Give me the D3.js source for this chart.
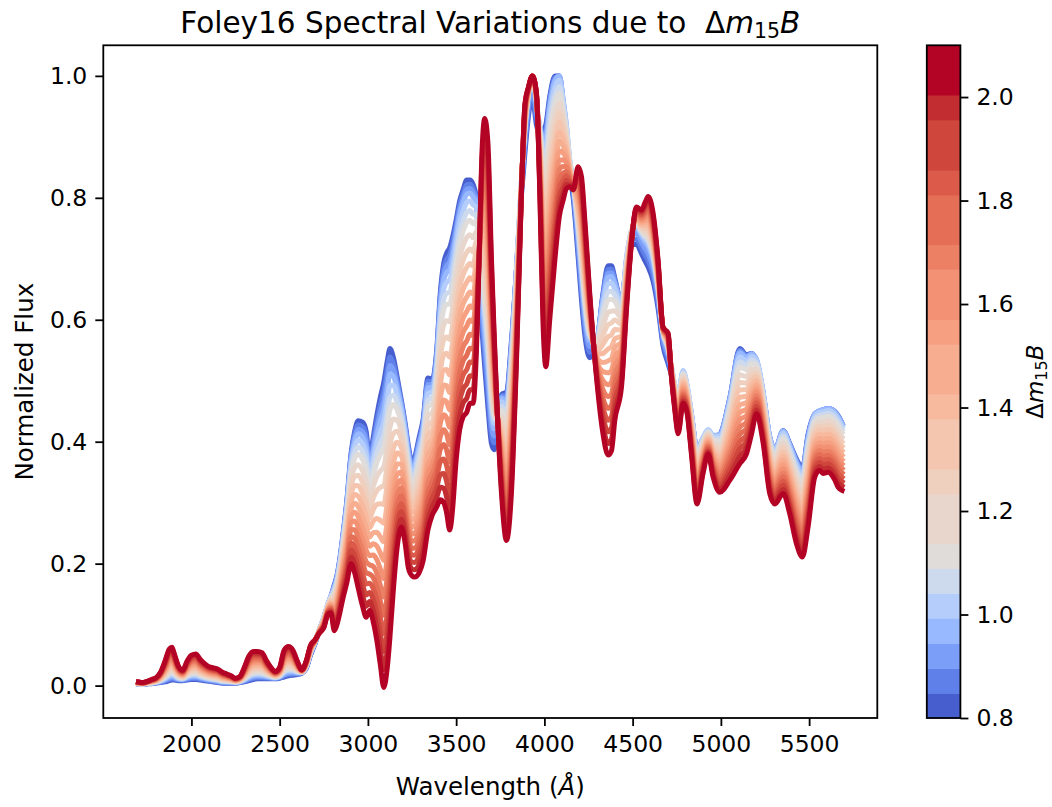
<!DOCTYPE html>
<html><head><meta charset="utf-8">
<script src="https://cdn.jsdelivr.net/npm/d3@7"></script>
<style>
body{margin:0;background:#fff}
text{font-family:"DejaVu Sans",sans-serif;fill:#000}
</style>
</head><body>
<svg id="c" width="1052" height="807" xmlns="http://www.w3.org/2000/svg"></svg>
<script>
// ---- data ----
// wavelength grid (Angstrom)
const wavelengths = [1700,1725,1750,1775,1800,1825,1850,1875,1890,1900,1925,1950,1975,2000,2025,2050,2075,2100,2125,2150,2175,2200,2225,2250,2275,2300,2325,2350,2375,2400,2425,2450,2475,2500,2525,2550,2575,2600,2625,2650,2675,2700,2725,2750,2775,2790,2810,2825,2840,2860,2880,2905,2925,2945,2970,2990,3010,3030,3050,3070,3090,3110,3125,3145,3165,3190,3210,3230,3250,3265,3290,3313,3340,3365,3390,3410,3430,3445,3464,3480,3500,3520,3540,3560,3578,3596,3615,3630,3645,3662,3680,3700,3715,3730,3757,3785,3813,3842,3870,3890,3910,3932,3955,3974,3993,4008,4030,4060,4085,4106,4125,4144,4163,4191,4210,4230,4257,4295,4332,4361,4380,4399,4437,4465,4493,4522,4550,4570,4588,4616,4644,4672,4701,4720,4739,4758,4786,4809,4833,4865,4899,4928,4956,4994,5051,5107,5145,5174,5202,5240,5277,5306,5353,5390,5428,5462,5494,5532,5560,5579,5608,5646,5665,5687];
// spectrum at the lowest decline rate (blue edge of the fan)
const fluxBlue = [0.002,0.002,0.003,0.003,0.004,0.005,0.006,0.008,0.009,0.009,0.008,0.008,0.009,0.010,0.010,0.009,0.008,0.007,0.006,0.005,0.004,0.004,0.004,0.004,0.005,0.006,0.008,0.010,0.011,0.011,0.011,0.011,0.011,0.012,0.014,0.016,0.017,0.018,0.020,0.028,0.050,0.068,0.090,0.110,0.133,0.145,0.165,0.180,0.205,0.250,0.300,0.380,0.415,0.432,0.430,0.415,0.370,0.405,0.440,0.470,0.495,0.530,0.550,0.535,0.505,0.465,0.430,0.390,0.364,0.372,0.405,0.435,0.502,0.500,0.548,0.640,0.690,0.705,0.715,0.732,0.760,0.791,0.810,0.825,0.825,0.818,0.796,0.680,0.590,0.520,0.455,0.395,0.385,0.410,0.475,0.479,0.561,0.680,0.800,0.870,0.930,0.960,0.915,0.900,0.905,0.915,0.961,0.995,0.995,0.950,0.900,0.835,0.796,0.700,0.630,0.570,0.535,0.555,0.640,0.685,0.685,0.665,0.625,0.687,0.720,0.720,0.705,0.693,0.683,0.660,0.616,0.555,0.525,0.506,0.480,0.470,0.505,0.480,0.440,0.386,0.400,0.410,0.405,0.410,0.470,0.550,0.540,0.542,0.528,0.475,0.405,0.385,0.416,0.395,0.370,0.355,0.410,0.443,0.448,0.450,0.452,0.447,0.440,0.428];
// spectrum at the highest decline rate (red edge of the fan)
const fluxRed = [0.006,0.005,0.007,0.010,0.013,0.022,0.040,0.060,0.063,0.055,0.033,0.025,0.040,0.050,0.052,0.043,0.036,0.031,0.029,0.027,0.022,0.019,0.016,0.012,0.015,0.030,0.048,0.056,0.056,0.054,0.041,0.030,0.023,0.030,0.058,0.064,0.058,0.040,0.026,0.040,0.066,0.075,0.086,0.095,0.118,0.119,0.090,0.100,0.118,0.145,0.168,0.200,0.185,0.160,0.130,0.112,0.123,0.105,0.075,0.035,-0.003,0.030,0.080,0.160,0.225,0.260,0.235,0.192,0.180,0.178,0.185,0.205,0.255,0.280,0.293,0.305,0.300,0.285,0.255,0.290,0.370,0.420,0.441,0.448,0.463,0.463,0.550,0.700,0.865,0.930,0.890,0.700,0.580,0.470,0.315,0.238,0.315,0.534,0.808,0.955,0.982,1.000,0.972,0.808,0.588,0.523,0.599,0.700,0.770,0.796,0.815,0.818,0.813,0.851,0.835,0.760,0.643,0.506,0.413,0.378,0.385,0.435,0.490,0.616,0.725,0.785,0.780,0.792,0.802,0.775,0.698,0.588,0.578,0.506,0.452,0.413,0.463,0.446,0.380,0.298,0.348,0.380,0.342,0.317,0.337,0.364,0.380,0.413,0.446,0.397,0.315,0.298,0.315,0.282,0.233,0.211,0.260,0.342,0.353,0.348,0.350,0.337,0.325,0.320];
// decline-rate values of the plotted spectra
const dm15 = [0.824,0.872,0.920,0.968,1.017,1.065,1.113,1.185,1.257,1.329,1.402,1.474,1.546,1.618,1.691,1.763,1.835,1.907,1.980,2.052];
// colorbar band boundaries
const cbBounds = [0.8,0.848,0.896,0.944,0.993,1.041,1.089,1.137,1.233,1.281,1.378,1.426,1.522,1.570,1.667,1.715,1.811,1.859,1.956,2.004,2.1];
const xTicks = [2000,2500,3000,3500,4000,4500,5000,5500];
const yTicks = [0.0,0.2,0.4,0.6,0.8,1.0];
const cbTicks = [0.8,1.0,1.2,1.4,1.6,1.8,2.0];

// ---- coolwarm colormap (style) ----
const cwStops = ["#3b4cc0","#445acc","#4d68d7","#5775e1","#6282ea","#6c8ef1","#779af7","#82a5fb","#8db0fe","#98b9ff","#a3c2ff","#aec9fd","#b8d0f9","#c2d5f4","#ccd9ee","#d5dbe6","#dddddd","#e5d8d1","#ecd3c5","#f1ccb9","#f5c4ad","#f7bba0","#f7b194","#f7a687","#f49a7b","#f18d6f","#ec7f63","#e57058","#de604d","#d55042","#cb3e38","#c0282f","#b40426"];
const coolwarm = d3.scaleLinear().domain(cwStops.map((d,i)=>i/(cwStops.length-1))).range(cwStops).interpolate(d3.interpolateRgb);
const tNorm = d3.scaleLinear().domain([0.8,1.1,dm15[dm15.length-1]]).range([0,0.5,1]).clamp(true);
const colorOf = v => coolwarm(tNorm(v));

// ---- model spectra: each decline rate mixes the two edge spectra, then normalized ----
const dLo = dm15[0], dHi = dm15[dm15.length-1];
const curves = dm15.map(v => {
  const s = (v - dLo) / (dHi - dLo);
  const raw = wavelengths.map((w,i) => (1-s)*fluxBlue[i] + s*fluxRed[i]);
  const mx = d3.max(raw);
  return {dm: v, pts: wavelengths.map((w,i) => [w, raw[i]/mx])};
});

// ---- layout ----
const svg = d3.select("#c");
svg.append("rect").attr("width",1052).attr("height",807).attr("fill","#fff");
const L = 103.3, R = 877.3, T = 45.3, B = 718;
const xExt = d3.extent(wavelengths), xPad = 0.05*(xExt[1]-xExt[0]);
const allY = curves.flatMap(c => c.pts.map(p => p[1]));
const yExt = d3.extent(allY), yPad = 0.05*(yExt[1]-yExt[0]);
const x = d3.scaleLinear().domain([xExt[0]-xPad, xExt[1]+xPad]).range([L,R]);
const y = d3.scaleLinear().domain([yExt[0]-yPad, yExt[1]+yPad]).range([B,T]);

const FS = 23.5, LFS = 24.5;
svg.append("clipPath").attr("id","clip").append("rect").attr("x",L).attr("y",T).attr("width",R-L).attr("height",B-T);

const line = d3.line().x(d=>x(d[0])).y(d=>y(d[1])).curve(d3.curveMonotoneX);
svg.append("g").attr("clip-path","url(#clip)").selectAll("path").data(curves).join("path")
  .attr("d", d => line(d.pts))
  .attr("fill","none")
  .attr("stroke", d => colorOf(d.dm))
  .attr("stroke-width", 5)
  .attr("stroke-linejoin","round")
  .attr("stroke-linecap","square");

// axes
const xAxis = d3.axisBottom(x).tickValues(xTicks).tickSize(8).tickPadding(8).tickFormat(d3.format("d"));
const gx = svg.append("g").attr("transform",`translate(0,${B})`).call(xAxis);
const yAxis = d3.axisLeft(y).tickValues(yTicks).tickSize(8).tickPadding(8).tickFormat(d3.format(".1f"));
const gy = svg.append("g").attr("transform",`translate(${L},0)`).call(yAxis);
[gx,gy].forEach(g => {
  g.select(".domain").remove();
  g.selectAll(".tick line").attr("stroke","#000").attr("stroke-width",1.8);
  g.selectAll(".tick text").attr("font-size",FS).attr("font-family","DejaVu Sans").attr("fill","#000");
});
gx.selectAll(".tick text").attr("dy","0.75em");
svg.append("rect").attr("x",L).attr("y",T).attr("width",R-L).attr("height",B-T)
  .attr("fill","none").attr("stroke","#000").attr("stroke-width",1.8);

// title
const title = svg.append("text").attr("x",(L+R)/2).attr("y",33).attr("text-anchor","middle")
  .attr("font-size",29.5).style("white-space","pre");
title.append("tspan").text("Foley16 Spectral Variations due to  \u0394");
title.append("tspan").attr("font-style","italic").text("m");
title.append("tspan").attr("font-size",20.5).attr("dy",5).text("15");
title.append("tspan").attr("font-style","italic").attr("dy",-5).text("B");

// axis labels
const xl = svg.append("text").attr("x",(L+R)/2).attr("y",795).attr("text-anchor","middle").attr("font-size",LFS);
xl.append("tspan").text("Wavelength (");
xl.append("tspan").attr("font-style","italic").text("\u00C5");
xl.append("tspan").text(")");
svg.append("text").attr("transform",`translate(33,${(T+B)/2}) rotate(-90)`).attr("text-anchor","middle")
  .attr("font-size",LFS).text("Normalized Flux");

// colorbar
const CL = 926.8, CR = 960.4;
const cy = d3.scaleLinear().domain([cbBounds[0], cbBounds[cbBounds.length-1]]).range([B,T]);
const bands = d3.range(cbBounds.length-1).map(i => ({lo: cbBounds[i], hi: cbBounds[i+1], v: dm15[i]}));
svg.append("g").selectAll("rect").data(bands).join("rect")
  .attr("x",CL).attr("width",CR-CL)
  .attr("y",d=>cy(d.hi)).attr("height",d=>cy(d.lo)-cy(d.hi)+0.5)
  .attr("fill",d=>colorOf(d.v));
svg.append("rect").attr("x",CL).attr("y",T).attr("width",CR-CL).attr("height",B-T)
  .attr("fill","none").attr("stroke","#000").attr("stroke-width",1.8);
const cAxis = d3.axisRight(cy).tickValues(cbTicks).tickSize(8).tickPadding(8).tickFormat(d3.format(".1f"));
const gc = svg.append("g").attr("transform",`translate(${CR},0)`).call(cAxis);
gc.select(".domain").remove();
gc.selectAll(".tick line").attr("stroke","#000").attr("stroke-width",1.8);
gc.selectAll(".tick text").attr("font-size",FS).attr("font-family","DejaVu Sans").attr("fill","#000");

const cl = svg.append("text").attr("transform",`translate(1043,${(T+B)/2}) rotate(-90)`).attr("text-anchor","middle").attr("font-size",23);
cl.append("tspan").text("\u0394");
cl.append("tspan").attr("font-style","italic").text("m");
cl.append("tspan").attr("font-size",16).attr("dy",4).text("15");
cl.append("tspan").attr("font-style","italic").attr("dy",-4).text("B");
</script>
</body></html>
